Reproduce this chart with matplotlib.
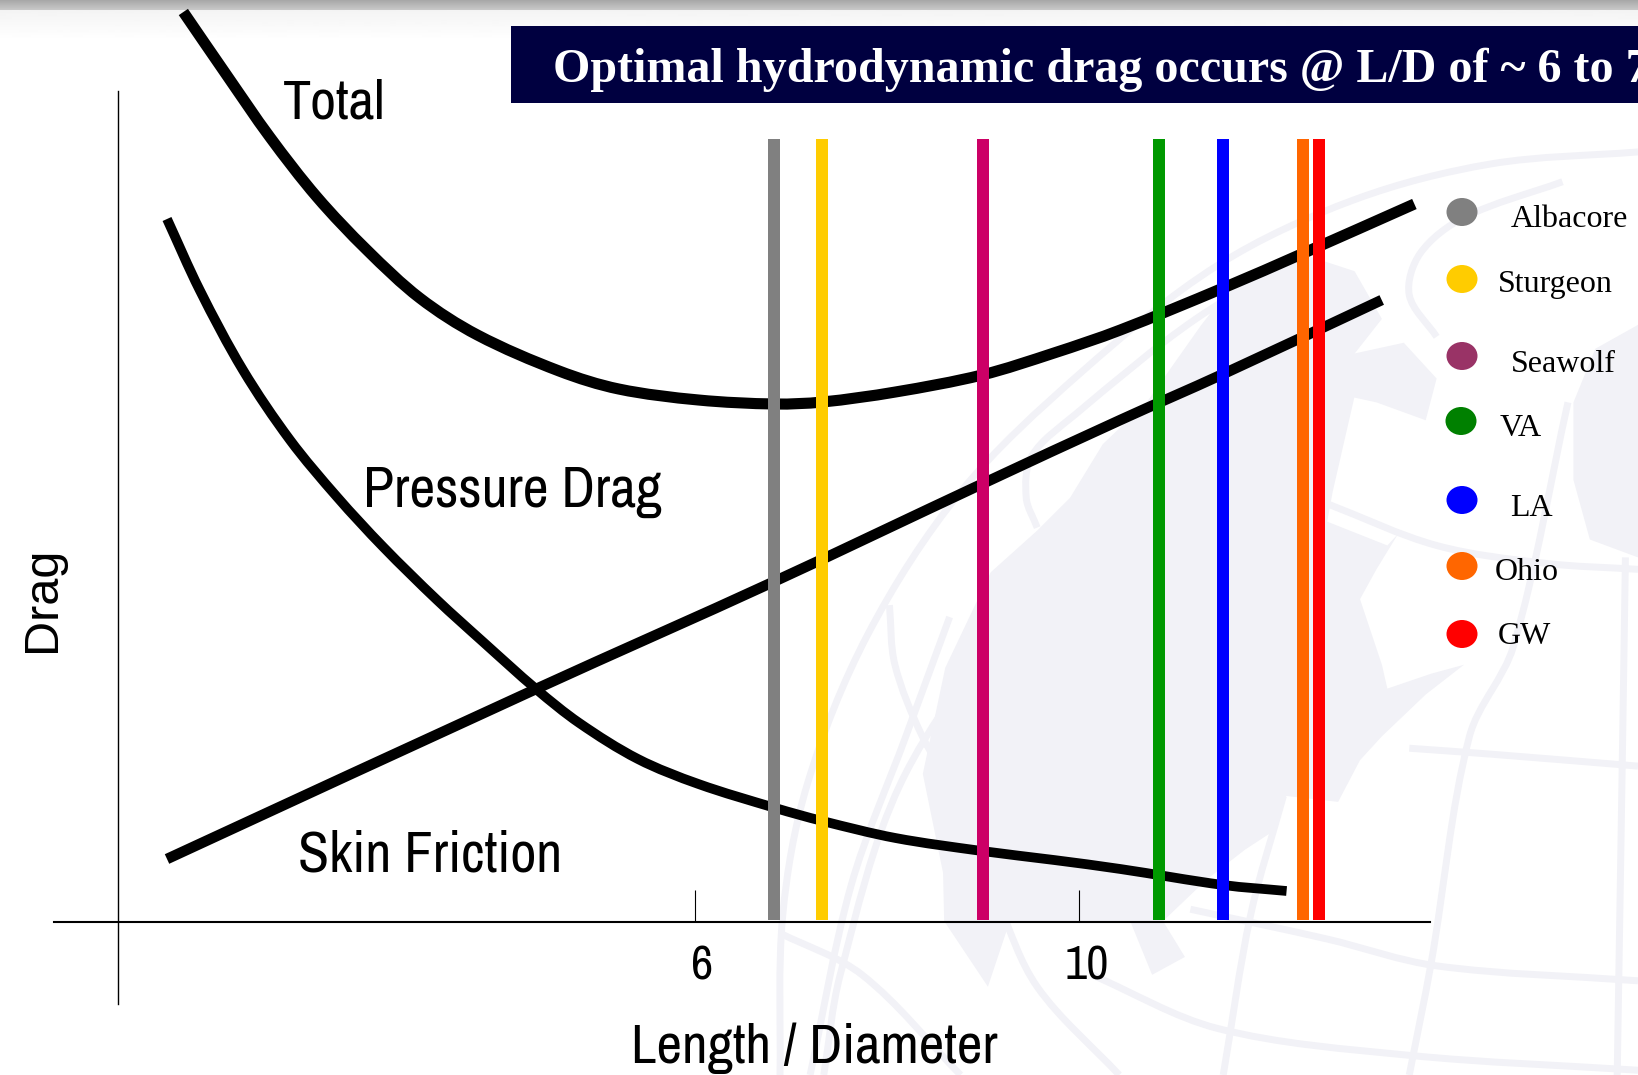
import matplotlib

matplotlib.use("Agg")
import logging

import matplotlib.pyplot as plt
import numpy as np
from matplotlib.patches import Ellipse, PathPatch, Rectangle
from matplotlib.path import Path
from matplotlib.transforms import ScaledTranslation

logging.getLogger("matplotlib.font_manager").setLevel(logging.ERROR)

W, H = 1638, 1075
X0, PX_PER_LD = 118, 96.1  # pixel of L/D = 0, pixels per unit
Y0, PX_PER_DRAG = 922, 100

NARROW = ["Archivo Narrow", "PT Sans Narrow", "Roboto Condensed", "Liberation Sans"]
SERIF = ["Liberation Serif", "DejaVu Serif"]
WATERMARK = "#F2F2F7"

# curves (L/D, drag in arbitrary units)
total_ld = [0.68, 1.13, 1.58, 2.07, 2.59, 3.14, 3.74, 4.59, 5.21, 6.04, 6.84, 7.33,
            8.09, 8.99, 9.74, 10.43, 11.50, 12.34, 13.49]
total_drag = [9.10, 8.47, 7.85, 7.25, 6.72, 6.24, 5.87, 5.51, 5.33, 5.22, 5.18, 5.20,
              5.30, 5.47, 5.69, 5.92, 6.34, 6.69, 7.18]
rising_ld = [0.51, 4.35, 6.84, 8.99, 10.43, 11.50, 13.15]
rising_drag = [0.63, 2.33, 3.41, 4.38, 5.02, 5.48, 6.22]
falling_ld = [0.51, 0.85, 1.30, 1.79, 2.28, 2.76, 3.32, 3.80, 4.35, 4.80, 5.41, 6.04,
              6.84, 7.33, 8.09, 8.99, 9.74, 10.43, 11.50, 12.16]
falling_drag = [7.03, 6.32, 5.52, 4.82, 4.25, 3.75, 3.22, 2.80, 2.33, 1.99, 1.63, 1.38,
                1.14, 1.01, 0.84, 0.71, 0.62, 0.53, 0.37, 0.31]

# submarine classes
sub_names = ["Albacore", "Sturgeon", "Seawolf", "VA", "LA", "Ohio", "GW"]
sub_ld = [6.83, 7.33, 9.00, 10.83, 11.50, 12.33, 12.50]
bar_colors = ["#808080", "#FFCC00", "#CC0066", "#009900", "#0000FF", "#FF6600", "#FF0000"]
dot_colors = ["#808080", "#FFCC00", "#993366", "#008000", "#0000FF", "#FF6600", "#FF0000"]
bar_top = 7.81

# legend layout in picture pixels: dot x, dot y, text x, text baseline
dot_x = [1462, 1462, 1462, 1461, 1462, 1462, 1462]
dot_y = [212, 279, 356, 421, 500, 566, 634]
name_x = [1511, 1498, 1511, 1500, 1510, 1495, 1498]
name_y = [227, 292, 372, 436, 516, 580, 644]

x_ticks = [6, 10]
x_tick_labels = ["6", "10"]

globe_lines = [
    [(1568, 20), (1300, 40), (1050, 100), (800, 210), (550, 390), (330, 590), (160, 830), (50, 1080), (5, 1300), (0, 1568)],
    [(1430, 70), (1250, 130), (1170, 190), (1150, 260), (1200, 330)],
    [(1000, 170), (760, 300), (540, 460), (460, 530), (450, 600), (470, 650)],
    [(1440, 440), (1340, 850), (1260, 1000), (1190, 1380), (1150, 1568)],
    [(1545, 700), (1540, 1000), (1530, 1568)],
    [(1000, 610), (1200, 680), (1400, 710), (1568, 720)],
    [(1150, 1020), (1300, 1030), (1568, 1050)],
    [(750, 1290), (1000, 1340), (1200, 1385), (1568, 1410)],
    [(570, 1400), (800, 1490), (1150, 1535), (1568, 1560)],
    [(920, 1100), (860, 1300), (810, 1568)],
    [(200, 780), (210, 880), (260, 1000), (330, 1110), (400, 1280), (470, 1420), (620, 1568)],
    [(430, 780), (220, 1080), (110, 1400), (80, 1568)],
    [(310, 800), (230, 1000), (130, 1250), (55, 1568)],
    [(0, 1330), (150, 1400), (330, 1568)],
]
globe_land = [
    [(385, 725), (470, 655), (530, 600), (590, 510), (670, 440), (770, 310), (830, 240), (950, 190),
     (1050, 220), (1100, 300), (1040, 370), (1050, 430), (1010, 590), (1000, 640), (1110, 680),
     (1130, 660), (1090, 720), (1060, 770), (1100, 880), (1110, 920), (1190, 895), (1250, 880),
     (1180, 930), (1100, 1000), (1060, 1040), (1020, 1110), (925, 1100), (900, 1160), (850, 1190),
     (780, 1240), (700, 1310), (740, 1370), (680, 1400), (640, 1310), (420, 1310), (380, 1420),
     (300, 1310), (298, 1229), (261, 1063), (302, 885)],
    [(1040, 360), (1140, 340), (1200, 400), (1180, 470), (1090, 440), (1040, 430)],
    [(1568, 310), (1490, 350), (1450, 440), (1450, 570), (1480, 670), (1568, 700)],
]


def crop_to_px(points):
    pts = np.array(points, dtype=float)
    return np.column_stack([780 + pts[:, 0] / 1.8275, 140 + pts[:, 1] / 1.677])


def smooth_path(xs, ys):
    # Bezier segments through the read points, handles scaled to each segment's length
    pts = np.column_stack([xs, ys])
    seg = np.linalg.norm(np.diff(pts, axis=0), axis=1)
    tang = np.zeros_like(pts)
    tang[1:-1] = (pts[2:] - pts[:-2]) / (seg[1:] + seg[:-1])[:, None]
    tang[0] = (pts[1] - pts[0]) / seg[0]
    tang[-1] = (pts[-1] - pts[-2]) / seg[-1]
    verts = [pts[0]]
    codes = [Path.MOVETO]
    for i, s in enumerate(seg):
        verts += [pts[i] + tang[i] * s / 3, pts[i + 1] - tang[i + 1] * s / 3, pts[i + 1]]
        codes += [Path.CURVE4] * 3
    return Path(verts, codes)


fig = plt.figure(figsize=(W / 100, H / 100), dpi=100, facecolor="white")

# Background layer in picture pixels
bg = fig.add_axes([0, 0, 1, 1], zorder=0)
rows = np.arange(42)
shade = np.interp(rows, [0, 9, 9.5, 10, 40], [0.66, 0.78, 0.80, 0.955, 1.0])
bg.imshow(shade[:, None], cmap="gray", vmin=0, vmax=1, extent=(0, W, 42, 0), aspect="auto",
          interpolation="bilinear")
bg.set_xlim(0, W)
bg.set_ylim(H, 0)
bg.axis("off")

for land in globe_land:
    pts = crop_to_px(land)
    bg.fill(pts[:, 0], pts[:, 1], color=WATERMARK, lw=0, zorder=1)
for line in globe_lines:
    pts = crop_to_px(line)
    bg.add_patch(PathPatch(smooth_path(pts[:, 0], pts[:, 1]), fc="none", ec=WATERMARK, lw=5, zorder=1))

# Title banner
bg.add_patch(Rectangle((511, 26), W - 511, 77, color="#000040", lw=0, zorder=2))
bg.text(553, 82, "Optimal hydrodynamic drag occurs @ L/D of ~ 6 to 7", color="white",
        family=SERIF, weight="bold", fontsize=34.6, va="baseline", zorder=3)

# Legend
for name, color, dx, dy, tx, ty in zip(sub_names, dot_colors, dot_x, dot_y, name_x, name_y):
    bg.add_patch(Ellipse((dx, dy), 31, 28, color=color, lw=0, zorder=3))
    bg.text(tx, ty, name, family=SERIF, fontsize=23, color="black", va="baseline", zorder=3)

# Chart layer
ax = fig.add_axes([0, 0, 1, 1], zorder=1)
ax.patch.set_alpha(0)
ax.set_xlim(-X0 / PX_PER_LD, (W - X0) / PX_PER_LD)
ax.set_ylim((Y0 - H) / PX_PER_DRAG, Y0 / PX_PER_DRAG)

for xs, ys, lw in [(total_ld, total_drag, 8.0), (rising_ld, rising_drag, 7.6), (falling_ld, falling_drag, 7.0)]:
    ax.add_patch(PathPatch(smooth_path(xs, ys), fc="none", ec="black", lw=lw, capstyle="butt", zorder=2))
ax.bar(sub_ld, bar_top, width=12 / PX_PER_LD, bottom=0.02, color=bar_colors, lw=0, zorder=3)

ax.text(1.72, 8.04, "Total", family=NARROW, fontsize=40.5, va="baseline", ha="left")
ax.text(2.55, 4.15, "Pressure Drag", family=NARROW, fontsize=40.7, va="baseline", ha="left")
ax.text(1.87, 0.50, "Skin Friction", family=NARROW, fontsize=40.9, va="baseline", ha="left")

# Axis lines cross at the origin
for side in ("top", "right"):
    ax.spines[side].set_visible(False)
ax.spines["left"].set_position(("data", 0))
ax.spines["bottom"].set_position(("data", 0))
ax.spines["left"].set_bounds(-0.82, 8.31)
ax.spines["bottom"].set_bounds(-0.667, 13.65)
ax.spines["left"].set_linewidth(1.0)
ax.spines["bottom"].set_linewidth(1.5)

ax.set_yticks([])
ax.set_xticks(x_ticks)
ax.set_xticklabels(x_tick_labels, family=NARROW, fontsize=35)
ax.tick_params(axis="x", direction="in", length=23, width=0.8, pad=16)
shift = ScaledTranslation(8 / 100, 0, fig.dpi_scale_trans)
for lab in ax.get_xticklabels():
    lab.set_transform(lab.get_transform() + shift)

ax.set_xlabel("Length / Diameter", family=NARROW, fontsize=40.2, va="baseline", ha="center")
ax.xaxis.set_label_coords(814 / W, 1 - 1063 / H)
ax.set_ylabel("Drag", family="Liberation Sans", fontsize=35, va="baseline", ha="center")
ax.yaxis.set_label_coords(55 / W, 1 - 599 / H)

fig.savefig("out.png", dpi=100)
plt.close(fig)
